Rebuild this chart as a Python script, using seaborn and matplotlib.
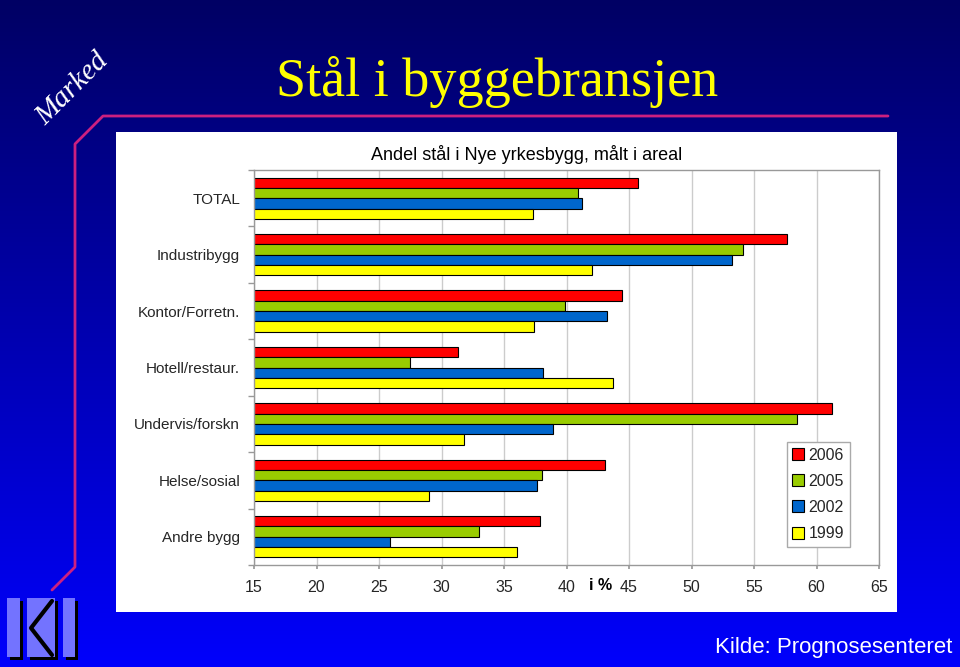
import numpy as np
import pandas as pd
import matplotlib
matplotlib.use("Agg")
import matplotlib.pyplot as plt
import seaborn as sns
from matplotlib.patches import Rectangle, Polygon
from matplotlib.lines import Line2D

categories = ["TOTAL", "Industribygg", "Kontor/Forretn.", "Hotell/restaur.",
              "Undervis/forskn", "Helse/sosial", "Andre bygg"]
years = ["2006", "2005", "2002", "1999"]
share_2006 = [45.7, 57.6, 44.4, 31.3, 61.2, 43.1, 37.9]
share_2005 = [40.9, 54.1, 39.9, 27.5, 58.4, 38.0, 33.0]
share_2002 = [41.2, 53.2, 43.2, 38.1, 38.9, 37.6, 25.9]
share_1999 = [37.3, 42.0, 37.4, 43.7, 31.8, 29.0, 36.0]
year_colors = ["#ff0000", "#99cc00", "#0066cc", "#ffff00"]
x_ticks = [15, 20, 25, 30, 35, 40, 45, 50, 55, 60, 65]

W, H = 960, 667


def fx(px):
    return px / W


def fy(py):
    return 1 - py / H


sns.set_theme(style="white")
plt.rcParams["font.family"] = ["Liberation Sans", "DejaVu Sans"]

df = pd.DataFrame({
    "category": categories * 4,
    "year": [y for y in years for _ in categories],
    "share": share_2006 + share_2005 + share_2002 + share_1999,
})

fig = plt.figure(figsize=(9.6, 6.67), dpi=100)

# background gradient, dark navy to bright blue
bg = fig.add_axes([0, 0, 1, 1], zorder=-10)
grad = np.linspace(0, 1, 256).reshape(-1, 1)
blue = 100 + 152 * grad
img = np.dstack([np.zeros_like(blue), np.zeros_like(blue), blue / 255.0])
bg.imshow(img, aspect="auto", extent=[0, 1, 0, 1], origin="upper")
bg.set_axis_off()

# white chart panel
fig.patches.append(Rectangle((fx(116), fy(612)), fx(897) - fx(116), fy(132) - fy(612),
                             transform=fig.transFigure, facecolor="white",
                             edgecolor="none", zorder=-5))

# magenta frame line
fig.lines.append(Line2D([fx(52), fx(75), fx(75), fx(103), fx(888)],
                        [fy(590), fy(567), fy(144), fy(116), fy(116)],
                        transform=fig.transFigure, color="#cc2080", lw=2))

ax = fig.add_axes([fx(254), fy(565), fx(879) - fx(254), fy(170) - fy(565)])
sns.barplot(data=df, y="category", x="share", hue="year", hue_order=years,
            order=categories, palette=year_colors, orient="h", width=0.73,
            saturation=1, edgecolor="black", linewidth=0.8, legend=False, ax=ax)

ax.set_xlim(15, 65)
ax.set_ylim(6.5, -0.5)
ax.set_xticks(x_ticks)
ax.set_xticklabels([str(t) for t in x_ticks], fontsize=11.5)
ax.set_yticks(np.arange(-0.5, 7, 1), minor=True)
ax.tick_params(axis="y", which="major", length=0, pad=10, labelsize=11)
ax.tick_params(axis="y", which="minor", length=4, color="#999999", width=1, left=True)
ax.tick_params(axis="x", length=3, color="#999999", bottom=True, pad=8)
ax.xaxis.grid(True, color="#cccccc", lw=1)
ax.set_axisbelow(True)
ax.set_xlabel("")
ax.set_ylabel("")
for s in ax.spines.values():
    s.set_color("#999999")
    s.set_linewidth(1)

handles = [Line2D([], [], marker="s", ls="none", markersize=8, markerfacecolor=c,
                  markeredgecolor="black", markeredgewidth=0.8) for c in year_colors]
ax.legend(handles, years, loc="lower left", bbox_to_anchor=(0.853, 0.046),
          fontsize=11.5, frameon=True, fancybox=False, edgecolor="#aaaaaa",
          framealpha=1, labelspacing=0.7, handlelength=0.7, handletextpad=0.3,
          borderpad=0.35, borderaxespad=0)

fig.text(fx(527), fy(155), "Andel stål i Nye yrkesbygg, målt i areal",
         ha="center", va="center", fontsize=13, color="black")
fig.text(fx(601), fy(585), "i %", ha="center", va="center", fontsize=11.5,
         fontweight="bold", color="black")

fig.text(fx(497), fy(82), "Stål i byggebransjen", ha="center", va="center",
         fontsize=39, color="#ffff00", family="Liberation Serif")
fig.text(fx(72), fy(89), "Marked", ha="center", va="center", rotation=45,
         fontsize=21, color="white", family="Liberation Serif", style="italic")
fig.text(fx(952), fy(647), "Kilde: Prognosesenteret", ha="right", va="center",
         fontsize=16, color="white")

# logo, bottom left
logo_c = "#7373ff"
for (x0, x1) in [(7, 20), (63, 75)]:
    fig.patches.append(Rectangle((fx(x0 + 3), fy(660)), fx(x1 - x0), fy(601) - fy(660),
                                 transform=fig.transFigure, facecolor="black",
                                 edgecolor="none", zorder=2))
    fig.patches.append(Rectangle((fx(x0), fy(657)), fx(x1 - x0), fy(598) - fy(657),
                                 transform=fig.transFigure, facecolor=logo_c,
                                 edgecolor="none", zorder=3))
fig.patches.append(Rectangle((fx(30), fy(660)), fx(28), fy(601) - fy(660),
                             transform=fig.transFigure, facecolor="black",
                             edgecolor="none", zorder=2))
fig.patches.append(Rectangle((fx(27), fy(657)), fx(28), fy(598) - fy(657),
                             transform=fig.transFigure, facecolor=logo_c,
                             edgecolor="none", zorder=3))
fig.lines.append(Line2D([fx(52), fx(31), fx(52)], [fy(601), fy(628), fy(655)],
                        transform=fig.transFigure, color="black", lw=3, zorder=4))
fig.patches.append(Polygon([(fx(52), fy(606)), (fx(36), fy(628)), (fx(52), fy(650))],
                           closed=True, transform=fig.transFigure, facecolor=logo_c,
                           edgecolor="none", zorder=5))

fig.savefig("out.png", dpi=100)
